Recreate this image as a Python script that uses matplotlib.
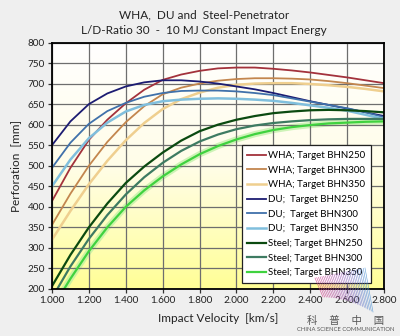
import numpy as np
import matplotlib
matplotlib.use("Agg")
import matplotlib.pyplot as plt
from matplotlib.colors import LinearSegmentedColormap

plt.rcParams["font.family"] = ["Lato", "DejaVu Sans"]

# impact velocity [km/s]
velocity = [1.0, 1.1, 1.2, 1.3, 1.4, 1.5, 1.6, 1.7, 1.8, 1.9,
            2.0, 2.1, 2.2, 2.3, 2.4, 2.5, 2.6, 2.7, 2.8]

# perforation [mm]
wha_250 = [414, 495, 563, 612, 652, 685, 709, 722, 731, 737,
           739, 739, 736, 732, 727, 721, 715, 708, 701]
wha_300 = [356, 432, 500, 558, 606, 645, 674, 690, 700, 707,
           711, 713, 713, 712, 710, 706, 701, 695, 689]
wha_350 = [320, 390, 455, 512, 562, 604, 638, 662, 678, 690,
           697, 700, 701, 701, 699, 696, 692, 687, 681]
du_250 = [550, 608, 650, 676, 693, 703, 708, 708, 705, 700,
          693, 686, 677, 667, 657, 648, 639, 630, 621]
du_300 = [495, 556, 602, 633, 653, 668, 677, 682, 683, 683,
          681, 677, 672, 664, 656, 648, 640, 630, 618]
du_350 = [450, 515, 567, 605, 632, 648, 657, 661, 663, 664,
          663, 661, 658, 653, 647, 641, 634, 624, 614]
steel_250 = [207, 283, 350, 408, 458, 498, 532, 561, 584, 600,
             612, 621, 628, 632, 635, 636, 635, 633, 630]
steel_300 = [178, 255, 322, 380, 430, 472, 507, 536, 559, 576,
             589, 598, 604, 608, 611, 613, 614, 614, 614]
steel_350 = [152, 225, 292, 350, 400, 440, 474, 503, 528, 548,
             564, 577, 587, 594, 599, 603, 605, 607, 608]

series = [
    ("WHA; Target BHN250", wha_250, "#a3323c", 1.3),
    ("WHA; Target BHN300", wha_300, "#c3864e", 1.3),
    ("WHA; Target BHN350", wha_350, "#efcf8f", 1.8),
    ("DU;  Target BHN250", du_250, "#1c1c72", 1.3),
    ("DU;  Target BHN300", du_300, "#4071aa", 1.3),
    ("DU;  Target BHN350", du_350, "#80bfdd", 1.8),
    ("Steel; Target BHN250", steel_250, "#0b4a10", 1.6),
    ("Steel; Target BHN300", steel_300, "#3e7b62", 1.6),
    ("Steel; Target BHN350", steel_350, "#3fd23f", 1.6),
]

fig = plt.figure(figsize=(4.0, 3.36), dpi=100, facecolor="#efefef")
ax = fig.add_axes([0.13, 0.14, 0.83, 0.7335])

# white-to-yellow plot background
cmap = LinearSegmentedColormap.from_list("bg", ["#ffff96", "#fffde8", "#ffffff"])
grad = np.linspace(0, 1, 256).reshape(-1, 1)
ax.imshow(grad, cmap=cmap, origin="lower", aspect="auto",
          extent=[0, 1, 0, 1], transform=ax.transAxes, zorder=0)

for label, values, color, lw in series:
    if label.startswith("Steel; Target BHN350"):
        ax.plot(velocity, values, color="#b8f0a0", lw=4.5, alpha=0.7,
                solid_capstyle="butt", zorder=2)
    ax.plot(velocity, values, color=color, lw=lw, label=label, zorder=3)

ax.set_xlim(1.0, 2.8)
ax.set_ylim(200, 800)
ax.set_xticks(np.arange(1.0, 2.81, 0.2))
ax.set_yticks(np.arange(200, 801, 50))
ax.set_xticklabels([f"{v:.3f}" for v in ax.get_xticks()])
ax.grid(True, color="#6e6e6e", lw=0.9, zorder=1)
ax.set_axisbelow(False)
for s in ax.spines.values():
    s.set_linewidth(1.3)
    s.set_zorder(4)
ax.tick_params(labelsize=7.2, length=3, width=0.9, colors="#333333",
               labelcolor="#222222", pad=2)

ax.set_xlabel("Impact Velocity  [km/s]", fontsize=8.5, color="#222222", labelpad=6)
ax.set_ylabel("Perforation  [mm]", fontsize=8.5, color="#222222", labelpad=5)
fig.text(0.51, 0.955, "WHA,  DU and  Steel-Penetrator", ha="center", va="center",
         fontsize=8.5, color="#222222")
fig.text(0.51, 0.91, "L/D-Ratio 30  -  10 MJ Constant Impact Energy", ha="center",
         va="center", fontsize=8.5, color="#222222")

leg = ax.legend(loc="lower right", bbox_to_anchor=(0.975, 0.004), fontsize=7,
                frameon=True, fancybox=False, edgecolor="#222222",
                framealpha=1.0, handlelength=1.9, handletextpad=0.2,
                labelspacing=0.58, borderpad=0.6)
leg.get_frame().set_linewidth(0.9)
leg.set_zorder(5)

# watermark: hatched ribbon logo + caption
W, H = 400.0, 336.0
ribbon = LinearSegmentedColormap.from_list("ribbon", ["#d23c86", "#9a5ab8", "#4a92d4"])
for t in np.linspace(0, 1, 30):
    x0, y0 = 315 + 50 * t, 278 - 10 * t
    x1, y1 = 323 + 50 * t, 297 + 15 * t ** 2
    fig.add_artist(plt.Line2D([x0 / W, x1 / W], [1 - y0 / H, 1 - y1 / H],
                              color=ribbon(t), lw=0.45, alpha=0.8, zorder=10))
fig.text(0.865, 0.046, "科     普     中     国", ha="center", va="center",
         fontsize=7.5, color="#555555",
         family=["Noto Sans CJK SC", "DejaVu Sans"], zorder=11)
fig.text(0.865, 0.018, "CHINA SCIENCE COMMUNICATION", ha="center", va="center",
         fontsize=4.2, color="#555555", zorder=11)

fig.savefig("out.png", dpi=100, facecolor=fig.get_facecolor())
